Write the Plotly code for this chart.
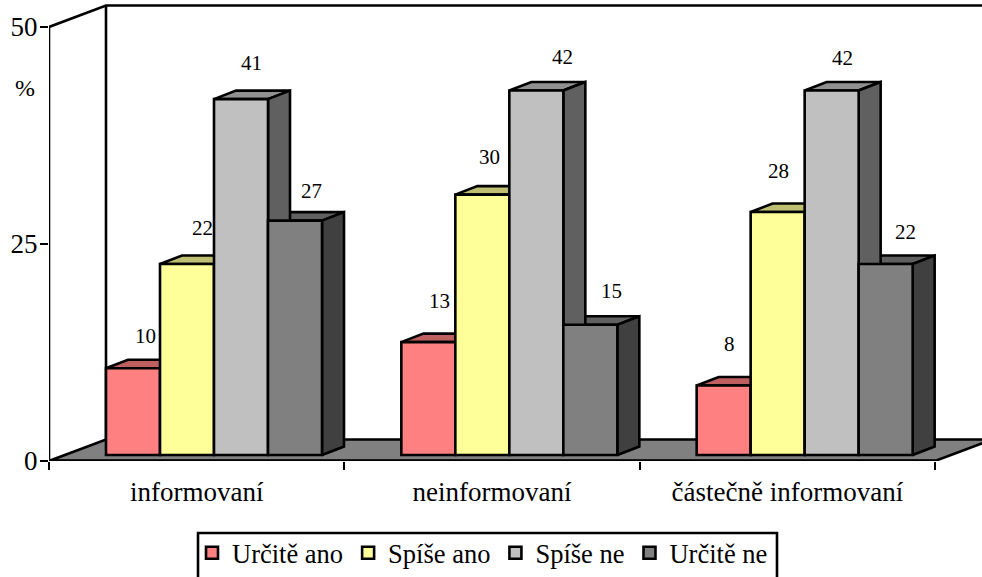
import plotly.graph_objects as go

# ---- data ----
groups = ["informovaní", "neinformovaní", "částečně informovaní"]
series_names = ["Určitě ano", "Spíše ano", "Spíše ne", "Určitě ne"]
urcite_ano = [10, 13, 8]
spise_ano = [22, 30, 28]
spise_ne = [41, 42, 42]
urcite_ne = [27, 15, 22]
series_values = [urcite_ano, spise_ano, spise_ne, urcite_ne]

# ---- styles ----
front_colors = ["#FF8080", "#FFFF99", "#C0C0C0", "#808080"]
top_colors = ["#BF6060", "#BFBF73", "#909090", "#606060"]
side_colors = ["#A05050", "#A0A060", "#606060", "#404040"]
FLOOR = "#808080"
SERIF = "Liberation Serif, Times New Roman, serif"
LW = 2.6

W, H = 982, 577
L, R, T, B = 49, 0, 3, 116
PX_X = 295.33  # px per category
PX_Y = 8.68    # px per percent


def ux(px):
    return px / PX_X


def uy(px):
    return px / PX_Y


def paper_x(px):
    return (px - L) / (W - L - R)


def paper_y(px):
    return (H - B - px) / (H - T - B)


xr = [-0.5, -0.5 + ux(W - L)]
yr = [0, uy(H - T - B)]
wall_dx, wall_dy = ux(57), uy(21.5)
bar_w = ux(54)
bar_start = ux(57) - 0.5
bar_lift = uy(6)
bar_dx, bar_dy = ux(22), uy(8.5)

# label nudges (px) relative to the front-top centre of each bar
label_dx = [[12, 11, 6], [15, 7, 1], [10, 26, 11], [16, 21, 20]]
label_dy = [[32, 41, 42], [36, 38, 41], [36, 33, 32], [30, 34, 32]]

fig = go.Figure()

# floor
fig.add_trace(go.Scatter(
    x=[-0.5, 2.5, 2.5 + wall_dx, -0.5 + wall_dx, -0.5],
    y=[0, 0, wall_dy, wall_dy, 0],
    mode="lines", fill="toself", fillcolor=FLOOR,
    line=dict(color="black", width=LW), hoverinfo="skip", showlegend=False))

# back wall edges and value axis
fig.add_trace(go.Scatter(
    x=[-0.5, -0.5 + wall_dx, xr[1], None, -0.5 + wall_dx, -0.5 + wall_dx, None, -0.5, -0.5],
    y=[50, 50 + wall_dy, 50 + wall_dy, None, 50 + wall_dy, wall_dy, None, 0, 50],
    mode="lines", cliponaxis=False,
    line=dict(color="black", width=LW), hoverinfo="skip", showlegend=False))

# top and side faces, right to left so nearer edges overlap correctly
for k in reversed(range(4)):
    tx, ty, sx, sy = [], [], [], []
    for g, v in enumerate(series_values[k]):
        x0 = g + bar_start + k * bar_w
        x1 = x0 + bar_w
        y0 = bar_lift
        y1 = bar_lift + v
        tx += [x0, x1, x1 + bar_dx, x0 + bar_dx, x0, None]
        ty += [y1, y1, y1 + bar_dy, y1 + bar_dy, y1, None]
        sx += [x1, x1 + bar_dx, x1 + bar_dx, x1, x1, None]
        sy += [y0, y0 + bar_dy, y1 + bar_dy, y1, y0, None]
    fig.add_trace(go.Scatter(x=tx, y=ty, mode="lines", fill="toself",
                             fillcolor=top_colors[k],
                             line=dict(color="black", width=LW),
                             hoverinfo="skip", showlegend=False))
    fig.add_trace(go.Scatter(x=sx, y=sy, mode="lines", fill="toself",
                             fillcolor=side_colors[k],
                             line=dict(color="black", width=LW),
                             hoverinfo="skip", showlegend=False))

# front faces on an overlaid subplot, so they cover the side faces
for k, name in enumerate(series_names):
    fig.add_trace(go.Bar(
        x=list(range(len(groups))), y=series_values[k], base=bar_lift,
        width=bar_w, offset=bar_start + k * bar_w,
        name=name, marker=dict(color=front_colors[k], line=dict(color="black", width=LW)),
        xaxis="x2", yaxis="y2"))

# front edge of the floor
fig.add_trace(go.Scatter(x=[-0.5, 2.5], y=[0, 0], mode="lines", xaxis="x2", yaxis="y2",
                         cliponaxis=False, line=dict(color="black", width=3.5),
                         hoverinfo="skip", showlegend=False))

annotations = []
for k in range(4):
    for g, v in enumerate(series_values[k]):
        annotations.append(dict(
            x=g + bar_start + (k + 0.5) * bar_w, y=bar_lift + v, xref="x2", yref="y2",
            text=str(v), showarrow=False, xshift=label_dx[k][g], yshift=label_dy[k][g],
            font=dict(family=SERIF, size=21, color="black"),
            xanchor="center", yanchor="middle"))
annotations.append(dict(
    x=paper_x(25), y=paper_y(88), xref="paper", yref="paper", xanchor="center",
    yanchor="middle", text="%", showarrow=False,
    font=dict(family=SERIF, size=24, color="black")))

fig.update_layout(
    width=W, height=H, margin=dict(l=L, r=R, t=T, b=B, autoexpand=False),
    paper_bgcolor="white", plot_bgcolor="white",
    barmode="overlay",
    font=dict(family=SERIF, size=27, color="black"),
    xaxis=dict(range=xr, tickmode="array", tickvals=[-0.5, 0.5, 1.5, 2.5],
               showticklabels=False, ticks="outside", ticklen=8, tickwidth=2,
               tickcolor="black", showgrid=False, zeroline=False, showline=False),
    yaxis=dict(range=yr, tickmode="array", tickvals=[0, 25, 50], ticks="outside",
               ticklen=8, tickwidth=2, tickcolor="black", showgrid=False,
               zeroline=False, showline=False, ticklabelstandoff=-3,
               tickfont=dict(family=SERIF, size=27, color="black")),
    xaxis2=dict(range=xr, overlaying="x", anchor="y2", side="bottom", tickmode="array",
                tickvals=list(range(len(groups))), ticktext=groups, ticks="",
                ticklabelstandoff=12, showgrid=False, zeroline=False, showline=False,
                tickfont=dict(family=SERIF, size=27, color="black")),
    yaxis2=dict(range=yr, overlaying="y", anchor="x2", visible=False),
    legend=dict(orientation="h", x=paper_x(192), xanchor="left",
                y=paper_y(529), yanchor="top",
                borderwidth=0, bgcolor="rgba(0,0,0,0)",
                font=dict(family=SERIF, size=26.5, color="black")),
    shapes=[dict(type="rect", xref="paper", yref="paper",
                 x0=paper_x(198), x1=paper_x(777), y0=paper_y(533), y1=paper_y(582),
                 line=dict(color="black", width=LW), fillcolor="rgba(0,0,0,0)")],
    annotations=annotations,
)

fig.write_html("out.html", config=dict(displayModeBar=False),
               post_script="document.body.style.margin='0';document.body.style.overflow='hidden';")
